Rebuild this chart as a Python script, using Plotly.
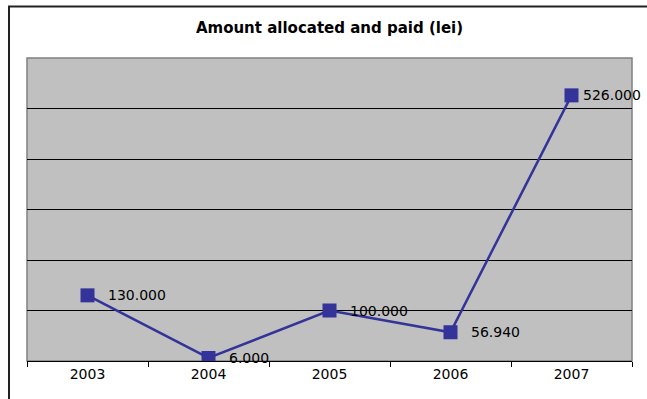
import plotly.graph_objects as go

years = ["2003", "2004", "2005", "2006", "2007"]
amounts = [130000, 6000, 100000, 56940, 526000]
labels = ["130.000", "6.000", "100.000", "56.940", "526.000"]
label_shift = [18, 18, 18, 18, 9]
grid_vals = [100000, 200000, 300000, 400000, 500000]

W, H = 647, 399
ml, mr, mt, mb = 27, 15, 58, 38
pw, ph = W - ml - mr, H - mt - mb

fig = go.Figure()
fig.add_trace(go.Scatter(
    x=years, y=amounts, mode="lines+markers",
    line=dict(color="#333399", width=2.5),
    marker=dict(symbol="square", size=14, color="#333399"),
    hoverinfo="skip", showlegend=False,
))

for i, (v, t, s) in enumerate(zip(amounts, labels, label_shift)):
    fig.add_annotation(x=i, y=v, text=t, showarrow=False, xanchor="left",
                       yanchor="middle", xshift=s,
                       font=dict(family="DejaVu Sans", size=14, color="black"))

def px_x(p):
    return (p - ml) / pw

def px_y(p):
    return (H - mb - p) / ph

# outer chart frame (top and left edges visible)
fig.add_shape(type="line", xref="paper", yref="paper",
              x0=px_x(8), x1=px_x(647), y0=px_y(6.5), y1=px_y(6.5),
              line=dict(color="#222222", width=2), layer="above")
fig.add_shape(type="line", xref="paper", yref="paper",
              x0=px_x(9), x1=px_x(9), y0=px_y(6), y1=px_y(399),
              line=dict(color="#222222", width=2), layer="above")
# plot area border
fig.add_shape(type="rect", xref="paper", yref="paper",
              x0=0, x1=1, y0=0, y1=1,
              line=dict(color="#808080", width=1.5), layer="below")

fig.update_layout(
    width=W, height=H,
    margin=dict(l=ml, r=mr, t=mt, b=mb),
    paper_bgcolor="white", plot_bgcolor="#C0C0C0",
    title=dict(text="<b>Amount allocated and paid (lei)</b>", x=0.5, xref="paper",
               y=1 - 28 / H, yanchor="middle",
               font=dict(family="DejaVu Sans", size=15, color="black")),
    xaxis=dict(type="category", showgrid=False, showline=True, linecolor="black",
               linewidth=1, ticks="outside", tickson="boundaries", ticklen=5,
               tickcolor="black", range=[-0.5, 4.5],
               tickfont=dict(family="DejaVu Sans", size=14, color="black")),
    yaxis=dict(range=[0, 600000], tickvals=grid_vals, showticklabels=False,
               showgrid=True, gridcolor="black", gridwidth=1, zeroline=False,
               showline=False, ticks=""),
)

fig.write_html("out.html", config={"displayModeBar": False},
               post_script="document.body.style.margin='0';"
                           "document.body.style.overflow='hidden';"
                           "document.documentElement.style.overflow='hidden';")
